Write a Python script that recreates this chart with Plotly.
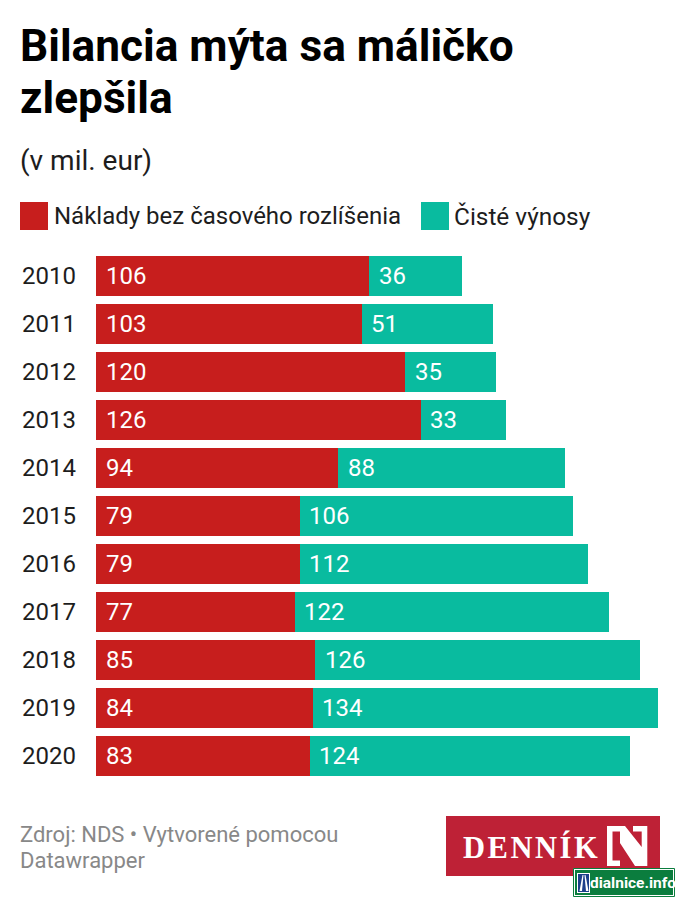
import plotly.graph_objects as go

years = ["2010","2011","2012","2013","2014","2015","2016","2017","2018","2019","2020"]
naklady = [106,103,120,126,94,79,79,77,85,84,83]
vynosy = [36,51,35,33,88,106,112,122,126,134,124]
RED = "#c71e1d"; TEAL = "#09bb9f"; INK = "#1d1d1d"
W, H = 680, 902
FONT = "Roboto"
px = lambda x: x / W
py = lambda y: 1 - y / H

fig = go.Figure()
fig.add_bar(y=years, x=naklady, orientation="h", marker=dict(color=RED, line_width=0), name="Náklady bez časového rozlíšenia")
fig.add_bar(y=years, x=vynosy, orientation="h", marker=dict(color=TEAL, line_width=0), name="Čisté výnosy")

ann = []
def text(x, y, s, size, color=INK, bold=False, anchor="left", family=FONT):
    ann.append(dict(xref="paper", yref="paper", x=px(x), y=py(y), text=f"<b>{s}</b>" if bold else s,
                    showarrow=False, xanchor=anchor, yanchor="middle",
                    font=dict(size=size, color=color, family=family), borderpad=0, borderwidth=0))

text(20, 46, "Bilancia mýta sa máličko", 44.2, "#000000", True)
text(20, 98, "zlepšila", 44.2, "#000000", True)
text(20, 161, "(v mil. eur)", 28)
text(54, 216, "Náklady bez časového rozlíšenia", 24)
text(454, 216, "Čisté výnosy", 24.4)
text(20, 834, "Zdroj: NDS • Vytvorené pomocou", 22, "#888888")
text(20, 860, "Datawrapper", 22, "#888888")
text(530, 847, "D\u200aE\u200aN\u200aN\u200aÍ\u200aK", 30.5, "#ffffff", True, "center", "Liberation Serif")
text(632.5, 882.5, "dialnice.info", 15.5, "#ffffff", True, "center")

for i, (a, b) in enumerate(zip(naklady, vynosy)):
    for xv, lab in ((0, a), (a, b)):
        ann.append(dict(xref="x", yref="y", x=xv, y=i, text=str(lab), showarrow=False, xanchor="left",
                        xshift=7.5, font=dict(size=24, color="#ffffff", family=FONT)))

def rect(x0, y0, x1, y1, color, line=None, lw=0):
    return dict(type="rect", xref="paper", yref="paper", x0=px(x0), x1=px(x1), y0=py(y0), y1=py(y1),
                fillcolor=color, line=dict(width=lw, color=line or color))
def path(pts, color):
    d = "M" + " L".join(f"{px(a):.5f},{py(b):.5f}" for a, b in pts) + " Z"
    return dict(type="path", xref="paper", yref="paper", path=d, fillcolor=color, line_width=0)

shapes = [
    rect(20, 202, 48, 230, RED), rect(421, 202, 449, 230, TEAL),
    rect(446, 816, 660, 876, "#be2136"),
    path([(607,826),(625,826),(641.7,847),(641.7,831.5),(633,831.5),(633,826),(647.3,826),(647.3,866),
          (635,866),(620,843),(620,831.5),(612.5,831.5),(612.5,860.5),(620,860.5),(620,866),(607,866)], "#ffffff"),
    rect(573.5, 868.5, 674.5, 896.5, "#ffffff", "#0b7d3e", 1),
    rect(575, 870, 673, 895, "#0b7d3e"),
    rect(577, 873, 590, 893, "#ffffff"),
    rect(578, 874, 589, 892, "#1c3f8a"),
    path([(582.5,875),(583.5,875),(582,891),(579.5,891)], "#ffffff"),
    path([(585.5,875),(584.5,875),(586,891),(588.5,891)], "#ffffff"),
]

fig.update_layout(
    width=W, height=H, autosize=False, barmode="stack", bargap=8/48, showlegend=False,
    paper_bgcolor="#ffffff", plot_bgcolor="#ffffff", margin=dict(l=0, r=0, t=0, b=0),
    xaxis=dict(domain=[px(96), px(658)], range=[0, 218], visible=False, fixedrange=True),
    yaxis=dict(domain=[py(780), py(252)], range=[10.5, -0.5], type="category", showgrid=False, zeroline=False,
               showline=False, ticks="", ticklen=0, tickfont=dict(size=24, color=INK, family=FONT), ticklabelstandoff=19, anchor="x", fixedrange=True),
    annotations=ann, shapes=shapes, font=dict(family=FONT),
)
fig.write_html("out.html", config={"displayModeBar": False},
               post_script="document.body.style.margin='0';document.documentElement.style.overflow='hidden';")
